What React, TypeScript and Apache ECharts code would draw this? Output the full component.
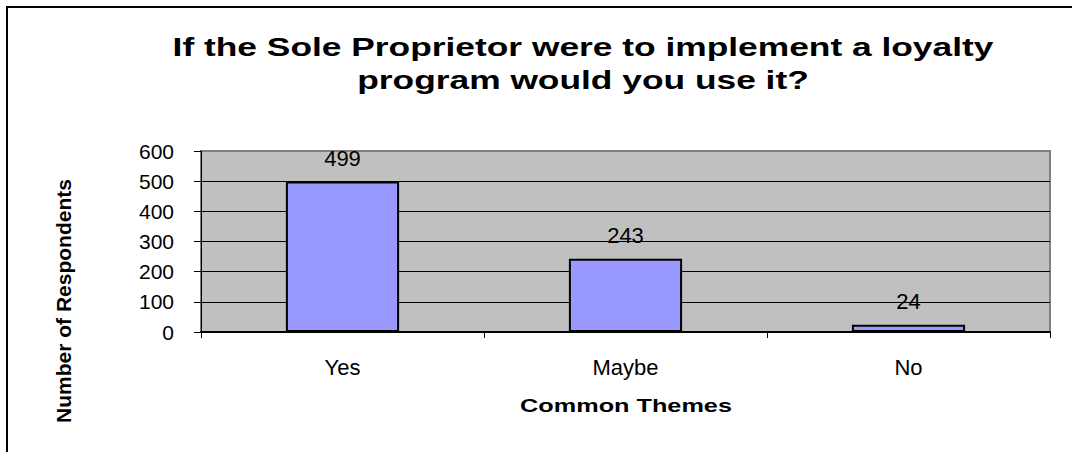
import React, { useEffect, useRef } from "react";
import * as echarts from "echarts";

const categories: string[] = ["Yes", "Maybe", "No"];
const respondents: number[] = [499, 243, 24];
const yMin = 0;
const yMax = 600;
const yInterval = 100;
const titleLines: string[] = [
  "If the Sole Proprietor were to implement a loyalty",
  "program would you use it?",
];
const xAxisTitle = "Common Themes";
const yAxisTitle = "Number of Respondents";

const FONT = "'Liberation Sans', Arial, Helvetica, sans-serif";

export default function App() {
  const ref = useRef<HTMLDivElement>(null);

  useEffect(() => {
    if (!ref.current) return;
    const chart = echarts.init(ref.current, null, { renderer: "svg" });
    const option: any = {
      animation: false,
      backgroundColor: "#ffffff",
      textStyle: { fontFamily: FONT },
      grid: {
        left: 201,
        right: 22,
        top: 151,
        bottom: 120,
        containLabel: false,
        outerBoundsMode: "none",
        show: true,
        backgroundColor: "#C0C0C0",
        borderColor: "#808080",
        borderWidth: 2,
      },
      xAxis: {
        type: "category",
        data: categories,
        boundaryGap: true,
        axisLine: { show: true, lineStyle: { color: "#000000", width: 2 } },
        axisTick: {
          show: true,
          alignWithLabel: false,
          length: 6,
          lineStyle: { color: "#000000", width: 1 },
        },
        axisLabel: {
          margin: 24,
          color: "#000000",
          fontSize: 22,
          fontFamily: FONT,
        },
        splitLine: { show: false },
      },
      yAxis: {
        type: "value",
        min: yMin,
        max: yMax,
        interval: yInterval,
        axisLine: { show: true, lineStyle: { color: "#000000", width: 1 } },
        axisTick: {
          show: true,
          length: 7,
          lineStyle: { color: "#000000", width: 1 },
        },
        axisLabel: {
          margin: 27,
          color: "#000000",
          fontSize: 21,
          fontFamily: FONT,
        },
        splitLine: {
          show: true,
          showMaxLine: false,
          lineStyle: { color: "#000000", width: 1 },
        },
      },
      series: [
        {
          type: "bar",
          data: respondents,
          barWidth: "40%",
          itemStyle: {
            color: "#9999FF",
            borderColor: "#000000",
            borderWidth: 2,
          },
          label: {
            show: true,
            position: "top",
            distance: 12,
            color: "#000000",
            fontSize: 22,
            fontFamily: FONT,
          },
        },
      ],
      graphic: [
        {
          type: "rect",
          silent: true,
          shape: { x: 7, y: 7, width: 1300, height: 900 },
          style: { fill: "none", stroke: "#000000", lineWidth: 2 },
          z: 100,
        },
        {
          type: "text",
          x: 583,
          y: 31,
          scaleX: 1.36,
          style: {
            text: titleLines.join("\n"),
            fontSize: 26,
            fontWeight: "bold",
            fontFamily: FONT,
            fill: "#000000",
            lineHeight: 33,
            align: "center",
            textAlign: "center",
            verticalAlign: "top",
            textVerticalAlign: "top",
          },
        },
        {
          type: "text",
          x: 626,
          y: 406,
          scaleX: 1.33,
          style: {
            text: xAxisTitle,
            fontSize: 19,
            fontWeight: "bold",
            fontFamily: FONT,
            fill: "#000000",
            align: "center",
            textAlign: "center",
            verticalAlign: "middle",
            textVerticalAlign: "middle",
          },
        },
        {
          type: "text",
          x: 63,
          y: 301,
          rotation: Math.PI / 2,
          style: {
            text: yAxisTitle,
            fontSize: 21,
            fontWeight: "bold",
            fontFamily: FONT,
            fill: "#000000",
            align: "center",
            textAlign: "center",
            verticalAlign: "middle",
            textVerticalAlign: "middle",
          },
        },
      ],
    };
    chart.setOption(option);
    return () => {
      chart.dispose();
    };
  }, []);

  return (
    <div
      ref={ref}
      style={{
        position: "absolute",
        left: 0,
        top: 0,
        width: 1072,
        height: 452,
        background: "#ffffff",
      }}
    />
  );
}
